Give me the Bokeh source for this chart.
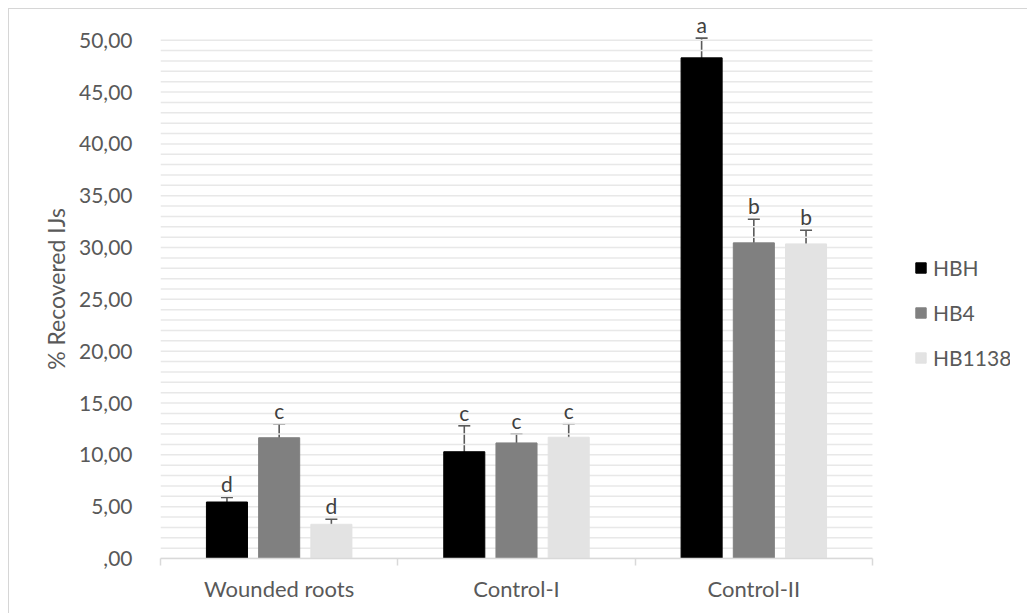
from bokeh.plotting import figure
from bokeh.models import (ColumnDataSource, Range1d, FixedTicker, Whisker, TeeHead,
                          Legend, LegendItem)
from bokeh.embed import file_html
from bokeh.resources import INLINE
from bokeh.core.properties import value

# ---- data ----
categories = ["Wounded roots", "Control-I", "Control-II"]
series = ["HBH", "HB4", "HB1138"]
colors = ["#000000", "#808080", "#e3e3e3"]
hbh = [5.45, 10.30, 48.30]
hb4 = [11.65, 11.15, 30.45]
hb1138 = [3.30, 11.70, 30.35]
hbh_err = [0.45, 2.50, 1.90]
hb4_err = [1.33, 0.88, 2.28]
hb1138_err = [0.48, 1.30, 1.32]
hbh_letters = ["d", "c", "a"]
hb4_letters = ["c", "c", "b"]
hb1138_letters = ["d", "c", "b"]
y_ticks = [0, 5, 10, 15, 20, 25, 30, 35, 40, 45, 50]
y_tick_labels = [",00", "5,00", "10,00", "15,00", "20,00", "25,00", "30,00",
                 "35,00", "40,00", "45,00", "50,00"]
grid_values = list(range(0, 51))

FONT = "Lato"
TXT = "#595959"
n_cat = len(categories)

p = figure(width=1019, height=605, output_backend="svg", toolbar_location=None,
           x_range=Range1d(0, 3.5815), y_range=Range1d(0, 52),
           min_border_left=151, min_border_right=18, min_border_top=10,
           min_border_bottom=56)
p.margin = (8, 0, 0, 8)
p.styles = {"border-left": "1px solid #d6d6d6", "border-top": "1px solid #d6d6d6"}
p.outline_line_color = None
p.background_fill_color = "white"
p.xgrid.grid_line_color = None
p.ygrid.grid_line_color = None

# horizontal gridlines limited to the category area
p.segment(x0=[0] * len(grid_values), x1=[n_cat] * len(grid_values),
          y0=grid_values, y1=grid_values, line_color="#e8e8e8", line_width=1.5)

# y axis
p.yaxis.ticker = FixedTicker(ticks=y_ticks)
p.yaxis.major_label_overrides = {t: l for t, l in zip(y_ticks, y_tick_labels)}
p.yaxis.axis_line_color = None
p.yaxis.major_tick_line_color = None
p.yaxis.minor_tick_line_color = None
p.yaxis.major_label_text_font = FONT
p.yaxis.major_label_text_font_size = "21px"
p.yaxis.major_label_text_color = TXT
p.yaxis.major_label_standoff = 22
p.yaxis.axis_label = "% Recovered IJs"
p.yaxis.axis_label_text_font = FONT
p.yaxis.axis_label_text_font_size = "23px"
p.yaxis.axis_label_text_font_style = "normal"
p.yaxis.axis_label_text_color = TXT
p.yaxis.axis_label_standoff = 6

# x axis
centers = [i + 0.5 for i in range(n_cat)]
p.xaxis.ticker = FixedTicker(ticks=centers, minor_ticks=list(range(n_cat + 1)))
p.xaxis.bounds = (0, n_cat)
p.xaxis.major_label_overrides = {c: n for c, n in zip(centers, categories)}
p.xaxis.axis_line_color = "#d9d9d9"
p.xaxis.axis_line_width = 1.5
p.xaxis.major_tick_line_color = None
p.xaxis.minor_tick_line_color = "#d9d9d9"
p.xaxis.minor_tick_line_width = 1.5
p.xaxis.minor_tick_in = 0
p.xaxis.minor_tick_out = 7
p.xaxis.major_label_text_font = FONT
p.xaxis.major_label_text_font_size = "22px"
p.xaxis.major_label_text_color = TXT
p.xaxis.major_label_standoff = 9

offsets = [-0.22, 0.0, 0.22]
bar_w = 0.173
vals = [hbh, hb4, hb1138]
errs = [hbh_err, hb4_err, hb1138_err]
letters = [hbh_letters, hb4_letters, hb1138_letters]

items = []
for name, col, off, v, e, let in zip(series, colors, offsets, vals, errs, letters):
    xs = [c + off for c in centers]
    src = ColumnDataSource(dict(x=xs, top=v, lo=[a - b for a, b in zip(v, e)],
                                hi=[a + b for a, b in zip(v, e)], lab=let))
    r = p.vbar(x="x", top="top", width=bar_w, bottom=0, source=src,
               fill_color=col, line_color=col)
    w = Whisker(base="x", lower="lo", upper="hi", source=src,
                line_color="#5a5a5a", line_width=1.6,
                lower_head=TeeHead(size=12, line_color="#5a5a5a", line_width=1.6),
                upper_head=TeeHead(size=12, line_color="#5a5a5a", line_width=1.6))
    p.add_layout(w)
    p.text(x="x", y="hi", text="lab", source=src, text_align="center",
           text_baseline="bottom", y_offset=-1, text_font=value(FONT),
           text_font_size="21px", text_color="#404040")
    items.append(LegendItem(label=name, renderers=[r]))

legend = Legend(items=items, location=(754, 188), orientation="vertical",
                glyph_width=13, glyph_height=13, label_standoff=6, spacing=20,
                padding=0, margin=0, border_line_color=None,
                background_fill_alpha=0, label_text_font=FONT,
                label_text_font_size="21px", label_text_color=TXT)
p.add_layout(legend)

open("out.html", "w").write(file_html(p, INLINE))
